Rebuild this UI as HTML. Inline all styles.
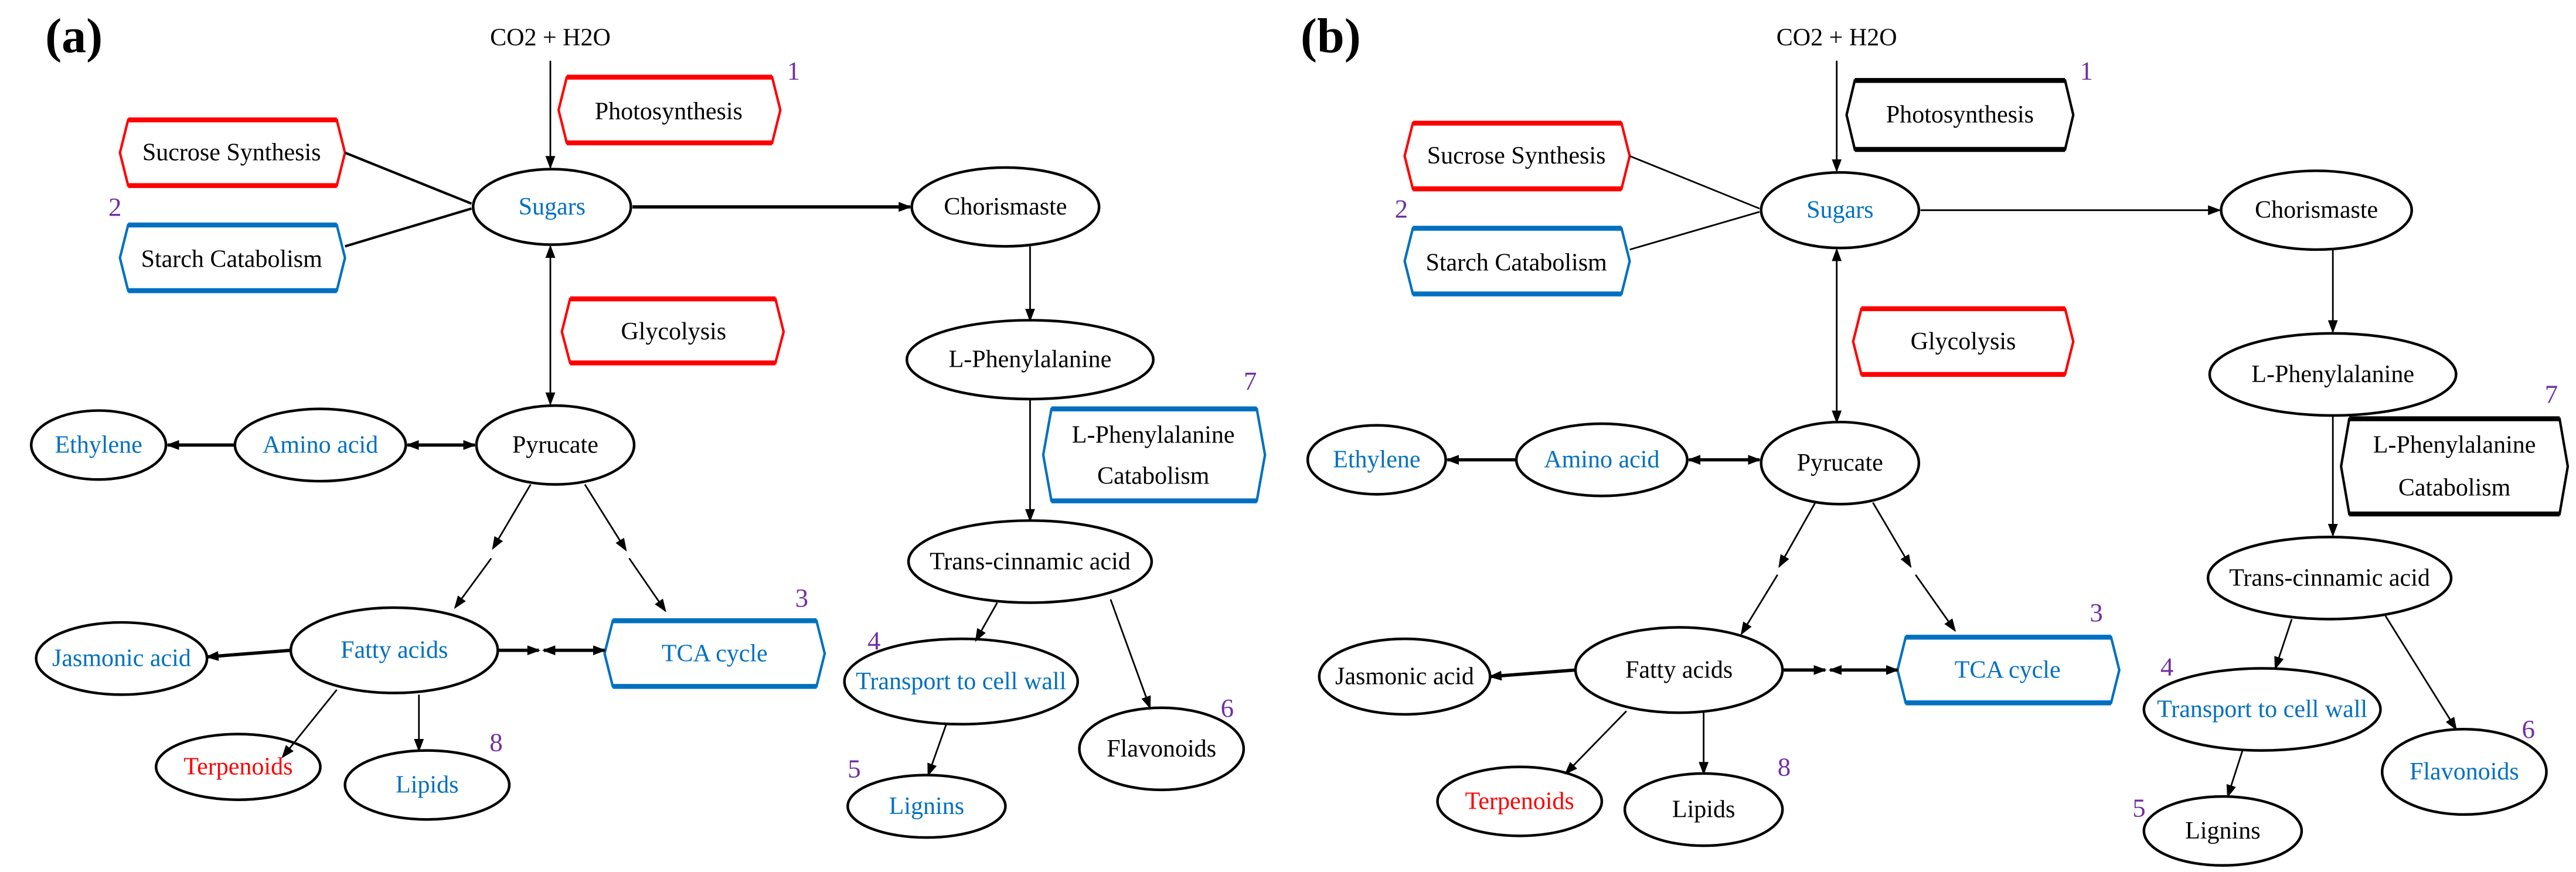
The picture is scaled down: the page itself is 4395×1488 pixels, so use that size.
<!DOCTYPE html>
<html><head><meta charset="utf-8"><style>
html,body{margin:0;padding:0;background:#fff;}
svg{display:block;}
text{font-family:"Liberation Serif",serif;font-size:15px;text-anchor:middle;dominant-baseline:central;}
.b{fill:#0070c0}.r{fill:#ff0000}.k{fill:#000}.n{fill:#7030a0;font-size:16px}
ellipse{fill:#fff;stroke:#000;stroke-width:1.6}
.l{stroke:#000;stroke-width:1;fill:none}
.t{stroke:#000;stroke-width:2;fill:none}
</style></head><body>
<svg width="4395" height="1488" viewBox="0 0 1568 531" preserveAspectRatio="none" xmlns="http://www.w3.org/2000/svg">
<defs>
<marker id="a" markerUnits="userSpaceOnUse" markerWidth="8" markerHeight="6" refX="7" refY="3" orient="auto-start-reverse"><path d="M0,0 L8,3 L0,6 z" fill="#000"/></marker>
</defs>
<rect width="1568" height="531" fill="#fff"/>

<!-- ===== Panel (a) shapes ===== -->
<text x="45" y="22" style="font-size:30px;font-weight:bold">(a)</text>
<text x="335" y="23">CO2 +  H2O</text>
<polygon points="345,47 470,47 475,67 470,87 345,87 340,67" fill="#fff" stroke="#f00" stroke-width="1.5"/>
<line x1="345" y1="47" x2="470" y2="47" stroke="#f00" stroke-width="3"/><line x1="345" y1="87" x2="470" y2="87" stroke="#f00" stroke-width="3"/>
<text x="407" y="68">Photosynthesis</text>
<text class="n" x="483" y="43">1</text>

<polygon points="78,73 205,73 210,93 205,113 78,113 73,93" fill="#fff" stroke="#f00" stroke-width="1.5"/>
<line x1="78" y1="73" x2="205" y2="73" stroke="#f00" stroke-width="3"/><line x1="78" y1="113" x2="205" y2="113" stroke="#f00" stroke-width="3"/>
<text x="141" y="93">Sucrose Synthesis</text>
<text class="n" x="70" y="126">2</text>
<polygon points="78,137 205,137 210,157 205,177 78,177 73,157" fill="#fff" stroke="#0070c0" stroke-width="1.5"/>
<line x1="78" y1="137" x2="205" y2="137" stroke="#0070c0" stroke-width="3"/><line x1="78" y1="177" x2="205" y2="177" stroke="#0070c0" stroke-width="3"/>
<text x="141" y="158">Starch Catabolism</text>

<ellipse cx="336" cy="126" rx="48" ry="23"/>
<text class="b" x="336" y="126">Sugars</text>
<ellipse cx="612" cy="126" rx="57" ry="24"/>
<text x="612" y="126">Chorismaste</text>
<ellipse cx="627" cy="219" rx="75" ry="24"/>
<text x="627" y="219">L-Phenylalanine</text>
<polygon points="640,249 765,249 770,277 765,305 640,305 635,277" fill="#fff" stroke="#0070c0" stroke-width="1.5"/>
<line x1="640" y1="249" x2="765" y2="249" stroke="#0070c0" stroke-width="3"/><line x1="640" y1="305" x2="765" y2="305" stroke="#0070c0" stroke-width="3"/>
<text x="702" y="265">L-Phenylalanine</text><text x="702" y="290">Catabolism</text>
<text class="n" x="761" y="232">7</text>

<polygon points="347,182 472,182 477,202 472,221 347,221 342,202" fill="#fff" stroke="#f00" stroke-width="1.5"/>
<line x1="347" y1="182" x2="472" y2="182" stroke="#f00" stroke-width="3"/><line x1="347" y1="221" x2="472" y2="221" stroke="#f00" stroke-width="3"/>
<text x="410" y="202">Glycolysis</text>

<ellipse cx="338" cy="271" rx="48" ry="24"/>
<text x="338" y="271">Pyrucate</text>
<ellipse cx="195" cy="271" rx="52" ry="22"/>
<text class="b" x="195" y="271">Amino acid</text>
<ellipse cx="60" cy="271" rx="41" ry="21"/>
<text class="b" x="60" y="271">Ethylene</text>

<ellipse cx="240" cy="396" rx="63" ry="26"/>
<text class="b" x="240" y="396">Fatty acids</text>
<ellipse cx="74" cy="401" rx="52" ry="22"/>
<text class="b" x="74" y="401">Jasmonic acid</text>
<polygon points="373,378 497,378 502,398 497,418 373,418 368,398" fill="#fff" stroke="#0070c0" stroke-width="1.5"/>
<line x1="373" y1="378" x2="497" y2="378" stroke="#0070c0" stroke-width="3"/><line x1="373" y1="418" x2="497" y2="418" stroke="#0070c0" stroke-width="3"/>
<text class="b" x="435" y="398">TCA cycle</text>
<text class="n" x="488" y="364">3</text>

<ellipse cx="145" cy="467" rx="50" ry="20"/>
<text class="r" x="145" y="467">Terpenoids</text>
<ellipse cx="260" cy="478" rx="50" ry="21"/>
<text class="b" x="260" y="478">Lipids</text>
<text class="n" x="302" y="452">8</text>

<ellipse cx="627" cy="342" rx="74" ry="25"/>
<text x="627" y="342">Trans-cinnamic acid</text>
<ellipse cx="585" cy="415" rx="71" ry="26"/>
<text class="b" x="585" y="415">Transport to cell wall</text>
<text class="n" x="532" y="390">4</text>
<ellipse cx="707" cy="456" rx="50" ry="25"/>
<text x="707" y="456">Flavonoids</text>
<text class="n" x="747" y="431">6</text>
<ellipse cx="564" cy="491" rx="48" ry="19"/>
<text class="b" x="564" y="491">Lignins</text>
<text class="n" x="520" y="468">5</text>

<!-- ===== Panel (a) connectors ===== -->
<line class="l" x1="335" y1="37" x2="335" y2="102" marker-end="url(#a)"/>
<line class="t" x1="210" y1="93" x2="287" y2="124" style="stroke-width:1.5"/>
<line class="t" x1="210" y1="150" x2="287" y2="127" style="stroke-width:1.5"/>
<line class="t" x1="385" y1="126" x2="554" y2="126" marker-end="url(#a)"/>
<line class="l" x1="627" y1="150" x2="627" y2="195" marker-end="url(#a)"/>
<line class="l" x1="627" y1="243" x2="627" y2="317" marker-end="url(#a)"/>
<line class="l" x1="335" y1="150" x2="335" y2="246" marker-start="url(#a)" marker-end="url(#a)"/>
<line class="t" x1="248" y1="271" x2="289" y2="271" marker-start="url(#a)" marker-end="url(#a)"/>
<line class="t" x1="143" y1="271" x2="102" y2="271" marker-end="url(#a)"/>
<line class="l" x1="323" y1="295" x2="300" y2="334" marker-end="url(#a)"/>
<line class="l" x1="299" y1="340" x2="277" y2="370" marker-end="url(#a)"/>
<line class="l" x1="356" y1="295" x2="381" y2="335" marker-end="url(#a)"/>
<line class="l" x1="383" y1="340" x2="405" y2="372" marker-end="url(#a)"/>
<line class="t" x1="177" y1="396" x2="126" y2="400" marker-end="url(#a)"/>
<line class="t" x1="303" y1="396" x2="328" y2="396" marker-end="url(#a)"/>
<line class="t" x1="331" y1="396" x2="368" y2="396" marker-start="url(#a)" marker-end="url(#a)"/>
<line class="l" x1="205" y1="420" x2="172" y2="461" marker-end="url(#a)"/>
<line class="l" x1="255" y1="423" x2="255" y2="457" marker-end="url(#a)"/>
<line class="l" x1="607" y1="367" x2="594" y2="390" marker-end="url(#a)"/>
<line class="l" x1="676" y1="365" x2="700" y2="431" marker-end="url(#a)"/>
<line class="l" x1="576" y1="441" x2="565" y2="472" marker-end="url(#a)"/>

<!-- ===== Panel (b) shapes ===== -->
<text x="810" y="22" style="font-size:30px;font-weight:bold">(b)</text>
<text x="1118" y="23">CO2 +  H2O</text>
<polygon points="1129,49 1257,49 1262,70 1257,91 1129,91 1124,70" fill="#fff" stroke="#000" stroke-width="1.5"/>
<line x1="1129" y1="49" x2="1257" y2="49" stroke="#000" stroke-width="3"/><line x1="1129" y1="91" x2="1257" y2="91" stroke="#000" stroke-width="3"/>
<text x="1193" y="70">Photosynthesis</text>
<text class="n" x="1270" y="43">1</text>

<polygon points="860,75 987,75 992,95 987,115 860,115 855,95" fill="#fff" stroke="#f00" stroke-width="1.5"/>
<line x1="860" y1="75" x2="987" y2="75" stroke="#f00" stroke-width="3"/><line x1="860" y1="115" x2="987" y2="115" stroke="#f00" stroke-width="3"/>
<text x="923" y="95">Sucrose Synthesis</text>
<text class="n" x="853" y="127">2</text>
<polygon points="860,139 987,139 992,159 987,179 860,179 855,159" fill="#fff" stroke="#0070c0" stroke-width="1.5"/>
<line x1="860" y1="139" x2="987" y2="139" stroke="#0070c0" stroke-width="3"/><line x1="860" y1="179" x2="987" y2="179" stroke="#0070c0" stroke-width="3"/>
<text x="923" y="160">Starch Catabolism</text>

<ellipse cx="1120" cy="128" rx="48" ry="23"/>
<text class="b" x="1120" y="128">Sugars</text>
<ellipse cx="1410" cy="128" rx="58" ry="24"/>
<text x="1410" y="128">Chorismaste</text>
<ellipse cx="1420" cy="228" rx="75" ry="25"/>
<text x="1420" y="228">L-Phenylalanine</text>
<polygon points="1430,255 1558,255 1563,284 1558,313 1430,313 1425,284" fill="#fff" stroke="#000" stroke-width="1.5"/>
<line x1="1430" y1="255" x2="1558" y2="255" stroke="#000" stroke-width="3"/><line x1="1430" y1="313" x2="1558" y2="313" stroke="#000" stroke-width="3"/>
<text x="1494" y="271">L-Phenylalanine</text><text x="1494" y="297">Catabolism</text>
<text class="n" x="1553" y="240">7</text>

<polygon points="1133,188 1257,188 1262,208 1257,228 1133,228 1128,208" fill="#fff" stroke="#f00" stroke-width="1.5"/>
<line x1="1133" y1="188" x2="1257" y2="188" stroke="#f00" stroke-width="3"/><line x1="1133" y1="228" x2="1257" y2="228" stroke="#f00" stroke-width="3"/>
<text x="1195" y="208">Glycolysis</text>

<ellipse cx="1120" cy="282" rx="48" ry="25"/>
<text x="1120" y="282">Pyrucate</text>
<ellipse cx="975" cy="280" rx="52" ry="22"/>
<text class="b" x="975" y="280">Amino acid</text>
<ellipse cx="838" cy="280" rx="42" ry="21"/>
<text class="b" x="838" y="280">Ethylene</text>

<ellipse cx="1022" cy="408" rx="63" ry="26"/>
<text x="1022" y="408">Fatty acids</text>
<ellipse cx="855" cy="412" rx="52" ry="23"/>
<text x="855" y="412">Jasmonic acid</text>
<polygon points="1160,388 1285,388 1290,408 1285,428 1160,428 1155,408" fill="#fff" stroke="#0070c0" stroke-width="1.5"/>
<line x1="1160" y1="388" x2="1285" y2="388" stroke="#0070c0" stroke-width="3"/><line x1="1160" y1="428" x2="1285" y2="428" stroke="#0070c0" stroke-width="3"/>
<text class="b" x="1222" y="408">TCA cycle</text>
<text class="n" x="1276" y="373">3</text>

<ellipse cx="925" cy="488" rx="50" ry="21"/>
<text class="r" x="925" y="488">Terpenoids</text>
<ellipse cx="1037" cy="493" rx="48" ry="22"/>
<text x="1037" y="493">Lipids</text>
<text class="n" x="1086" y="467">8</text>

<ellipse cx="1418" cy="352" rx="74" ry="25"/>
<text x="1418" y="352">Trans-cinnamic acid</text>
<ellipse cx="1377" cy="432" rx="72" ry="25"/>
<text class="b" x="1377" y="432">Transport to cell wall</text>
<text class="n" x="1319" y="406">4</text>
<ellipse cx="1500" cy="470" rx="50" ry="26"/>
<text class="b" x="1500" y="470">Flavonoids</text>
<text class="n" x="1539" y="444">6</text>
<ellipse cx="1353" cy="506" rx="48" ry="21"/>
<text x="1353" y="506">Lignins</text>
<text class="n" x="1302" y="492">5</text>

<!-- ===== Panel (b) connectors ===== -->
<line class="l" x1="1118" y1="37" x2="1118" y2="104" marker-end="url(#a)"/>
<line class="l" x1="992" y1="95" x2="1071" y2="127"/>
<line class="l" x1="992" y1="152" x2="1071" y2="129"/>
<line class="l" x1="1169" y1="128" x2="1351" y2="128" marker-end="url(#a)"/>
<line class="l" x1="1420" y1="152" x2="1420" y2="202" marker-end="url(#a)"/>
<line class="l" x1="1420" y1="253" x2="1420" y2="326" marker-end="url(#a)"/>
<line class="l" x1="1118" y1="152" x2="1118" y2="257" marker-start="url(#a)" marker-end="url(#a)"/>
<line class="t" x1="1028" y1="280" x2="1071" y2="280" marker-start="url(#a)" marker-end="url(#a)"/>
<line class="t" x1="923" y1="280" x2="881" y2="280" marker-end="url(#a)"/>
<line class="l" x1="1105" y1="306" x2="1083" y2="345" marker-end="url(#a)"/>
<line class="l" x1="1082" y1="350" x2="1060" y2="386" marker-end="url(#a)"/>
<line class="l" x1="1140" y1="306" x2="1163" y2="345" marker-end="url(#a)"/>
<line class="l" x1="1166" y1="350" x2="1190" y2="384" marker-end="url(#a)"/>
<line class="t" x1="959" y1="408" x2="907" y2="412" marker-end="url(#a)"/>
<line class="t" x1="1085" y1="408" x2="1111" y2="408" marker-end="url(#a)"/>
<line class="t" x1="1114" y1="408" x2="1155" y2="408" marker-start="url(#a)" marker-end="url(#a)"/>
<line class="l" x1="990" y1="433" x2="953" y2="471" marker-end="url(#a)"/>
<line class="l" x1="1037" y1="434" x2="1037" y2="471" marker-end="url(#a)"/>
<line class="l" x1="1395" y1="377" x2="1385" y2="407" marker-end="url(#a)"/>
<line class="l" x1="1452" y1="375" x2="1495" y2="444" marker-end="url(#a)"/>
<line class="l" x1="1365" y1="457" x2="1356" y2="485" marker-end="url(#a)"/>
</svg>
</body></html>
